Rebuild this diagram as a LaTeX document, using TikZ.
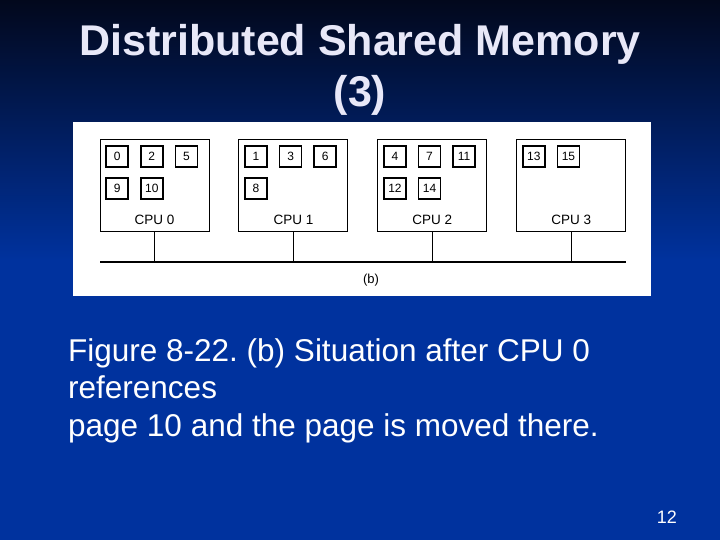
\documentclass[tikz,border=0pt]{standalone}
\usepackage{fontspec}
\setmainfont{Liberation Sans}
\usetikzlibrary{positioning}
\definecolor{slidetop}{RGB}{2,8,28}
\definecolor{slideblue}{RGB}{0,50,158}
\definecolor{titlecol}{RGB}{232,232,248}
\frenchspacing

\begin{document}
\begin{tikzpicture}[
    x=1pt, y=-1pt,
    cpu/.style={rectangle, draw, line width=0.9pt, minimum width=109pt, minimum height=92pt, inner sep=0pt},
    page/.style={rectangle, draw, line width=1.6pt, minimum width=22pt, minimum height=21pt, inner sep=0pt,
        text height=8.5pt, text depth=0pt, font=\fontsize{12}{12}\selectfont},
    cpuname/.style={anchor=base, font=\fontsize{13.5}{14}\selectfont},
    wire/.style={line width=1.2pt},
    slidetext/.style={text=white, inner sep=0pt}
]
% slide background
\fill[top color=slidetop, bottom color=slideblue] (0,0) rectangle (720,260);
\fill[slideblue] (0,259) rectangle (720,540);
\useasboundingbox (0,0) rectangle (720,540);

\node[slidetext, text=titlecol, anchor=base, align=center, font=\bfseries\fontsize{43}{51}\selectfont] (title) at (360,107) {Distributed Shared Memory\\(3)};

% figure panel
\fill[white] (73,122) rectangle (651,296);

\node[cpu] (cpu0) at (154.5,185) {};
\node[cpu, right=29pt of cpu0] (cpu1) {};
\node[cpu, right=29pt of cpu1] (cpu2) {};
\node[cpu, right=29pt of cpu2] (cpu3) {};

\node[cpuname] (name0) at ([yshift=6.5pt]cpu0.south) {CPU 0};
\node[cpuname] (name1) at ([yshift=6.5pt]cpu1.south) {CPU 1};
\node[cpuname] (name2) at ([yshift=6.5pt]cpu2.south) {CPU 2};
\node[cpuname] (name3) at ([yshift=6.5pt]cpu3.south) {CPU 3};

% pages held by CPU 0
\node[page, below right=6.8pt and 5.8pt of cpu0.north west] (p0) {0};
\node[page, right=11pt of p0] (p2) {2};
\node[page, right=11pt of p2] (p5) {5};
\node[page, below=9.5pt of p0] (p9) {9};
\node[page, right=11pt of p9] (p10) {10};

% pages held by CPU 1
\node[page, below right=6.8pt and 5.8pt of cpu1.north west] (p1) {1};
\node[page, right=11pt of p1] (p3) {3};
\node[page, right=11pt of p3] (p6) {6};
\node[page, below=9.5pt of p1] (p8) {8};

% pages held by CPU 2
\node[page, below right=6.8pt and 5.8pt of cpu2.north west] (p4) {4};
\node[page, right=11pt of p4] (p7) {7};
\node[page, right=11pt of p7] (p11) {11};
\node[page, below=9.5pt of p4] (p12) {12};
\node[page, right=11pt of p12] (p14) {14};

% pages held by CPU 3
\node[page, below right=6.8pt and 5.8pt of cpu3.north west] (p13) {13};
\node[page, right=11pt of p13] (p15) {15};

% bus
\coordinate (busL) at (100,262);
\coordinate (busR) at (626,262);
\draw[wire] (busL) -- (busR);
\foreach \c in {cpu0,cpu1,cpu2,cpu3}
    \draw[wire] (\c.south) -- (\c.south |- busL);

\node[font=\fontsize{13}{13}\selectfont] (figb) at (371,280) {(b)};

\node[slidetext, anchor=base west, align=left, font=\fontsize{31.5}{37.5}\selectfont] (caption) at (68,436) {Figure 8-22. (b) Situation after CPU 0\\references\\page 10 and the page is moved there.};

\node[slidetext, anchor=base east, font=\fontsize{18}{18}\selectfont] (pagenum) at (677,523) {12};
\end{tikzpicture}
\end{document}
